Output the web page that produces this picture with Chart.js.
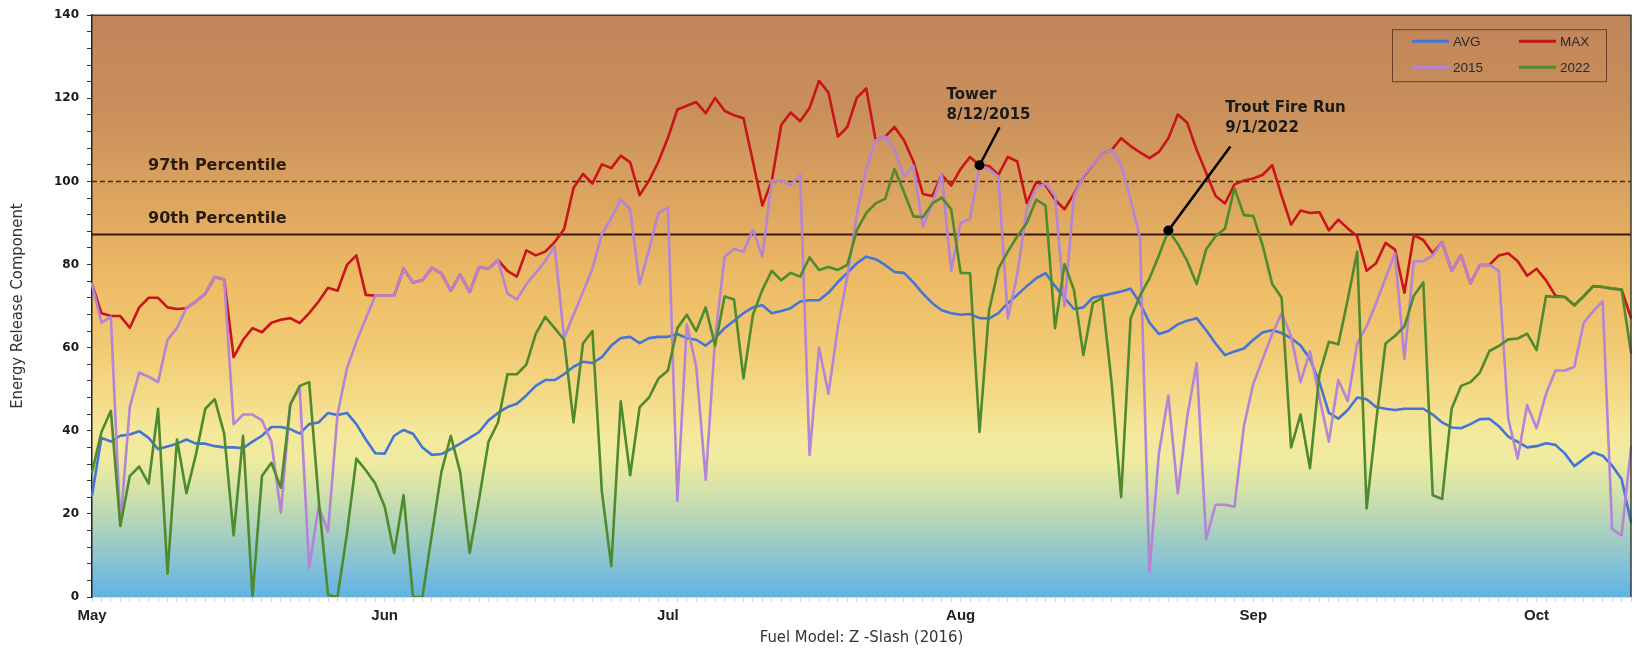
<!DOCTYPE html>
<html>
<head>
<meta charset="utf-8">
<script src="https://cdn.jsdelivr.net/npm/chart.js@4.4.0/dist/chart.umd.min.js"></script>
<style>
  html, body { margin: 0; padding: 0; background: #fff; }
  #wrap { width: 1636px; height: 648px; }
</style>
</head>
<body>
<div id="wrap"><canvas id="chart" width="1636" height="648"></canvas></div>
<script>
// meses del eje x
var meses = ['May', 'Jun', 'Jul', 'Aug', 'Sep', 'Oct'];
var numMes = [5, 6, 7, 8, 9, 10];
var diasMes = [31, 30, 31, 31, 30, 11];

var avg = [24.5, 38.3, 37.4, 38.8, 39.1, 39.9, 38.3, 35.6, 36.2, 36.9,
  37.9, 36.9, 36.9, 36.3, 36, 36, 35.8, 37.4, 38.8, 40.9,
  40.9, 40.4, 39.3, 41.6, 42, 44.3, 43.8, 44.3, 41.6, 37.9,
  34.6, 34.5, 38.8, 40.2, 39.3, 36, 34.2, 34.4, 35.6, 36.9,
  38.3, 39.7, 42.5, 44.3, 45.7, 46.5, 48.5, 50.8, 52.2, 52.2,
  53.6, 55.4, 56.6, 56.3, 57.7, 60.5, 62.3, 62.6, 61.1, 62.3,
  62.6, 62.6, 63.3, 62.3, 61.9, 60.5, 62.3, 64.7, 66.5, 68.3,
  69.7, 70.2, 68.3, 68.8, 69.5, 71.1, 71.4, 71.4, 73.2, 75.8,
  78, 80.3, 81.9, 81.3, 79.9, 78.2, 78, 75.7, 73, 70.7,
  69, 68.3, 67.9, 68.1, 67.1, 67, 68.3, 70.7, 72.7, 74.8,
  76.7, 77.9, 74.8, 72, 69.3, 69.7, 72, 72.5, 73, 73.5,
  74.2, 70.7, 66, 63.3, 64, 65.6, 66.5, 67.1, 64.2, 61,
  58.2, 59.1, 59.8, 61.9, 63.7, 64.2, 63.5, 62.3, 60.5, 57.3,
  51.7, 44.3, 42.9, 45, 48, 47.6, 45.7, 45.3, 45, 45.3,
  45.3, 45.3, 43.9, 42, 40.8, 40.6, 41.6, 42.8, 42.9, 41.1,
  38.6, 37.3, 36, 36.3, 37, 36.6, 34.5, 31.5, 33.2, 34.8,
  34, 31.6, 28.4, 18];

var max = [75.3, 68.3, 67.6, 67.6, 64.8, 69.7, 72, 72, 69.7, 69.3,
  69.5, 71.1, 73, 77, 76.4, 57.7, 61.9, 64.7, 63.7, 66,
  66.7, 67.1, 65.9, 68.3, 71.1, 74.4, 73.7, 79.9, 82.2, 72.7,
  72.5, 72.5, 72.5, 79, 75.7, 76.2, 79.2, 77.9, 73.7, 77.6,
  73.4, 79.4, 79, 81.1, 78.5, 77.1, 83.4, 82.2, 83.1, 85.4,
  88.5, 98.4, 101.8, 99.5, 104.1, 103.2, 106.2, 104.6, 96.7, 100.2,
  104.8, 110.5, 117.3, 118.2, 119.1, 116.4, 120.1, 117, 115.9, 115.2,
  104.8, 94.2, 100.2, 113.6, 116.6, 114.5, 117.7, 124.2, 121.4, 110.8,
  113.1, 120.1, 122.4, 109.9, 110.8, 113.1, 109.9, 104.8, 97, 96.5,
  101.6, 99, 103, 105.9, 103.9, 103.7, 101.6, 105.9, 104.8, 94.8,
  99.8, 99.1, 95.6, 93.3, 97, 101.1, 103.9, 106.7, 107.6, 110.4,
  108.5, 107, 105.6, 107.1, 110.4, 116.1, 114.1, 107.6, 102.1, 96.5,
  94.7, 99.3, 100.2, 100.7, 101.6, 103.9, 96.5, 89.6, 93, 92.4,
  92.6, 88.2, 90.8, 88.7, 86.8, 78.5, 80.3, 85.2, 83.6, 73.2,
  87.1, 85.9, 82.7, 85.4, 78.5, 82.2, 75.5, 79.9, 79.9, 82.2,
  82.7, 80.8, 77.3, 79, 76.2, 72.5, 72.2, 70.2, 72.4, 74.8,
  74.6, 74.2, 74, 67.2];

var y2015 = [75.3, 66, 67.4, 17.1, 45.7, 54, 53, 51.7, 61.9, 64.7,
  69.5, 71.1, 73, 77, 76.4, 41.6, 43.9, 43.9, 42.5, 37.4,
  20.3, 46.6, 50.3, 6.9, 21.7, 15.7, 43.9, 55, 61.4, 67,
  72.5, 72.5, 72.5, 79, 75.7, 76.2, 79.2, 77.9, 73.7, 77.6,
  73.4, 79.4, 79, 81.1, 73, 71.6, 75.3, 78, 80.8, 84.5,
  62.3, 67.9, 73.4, 79, 87.3, 91.2, 95.6, 93.3, 75.3, 83.6,
  92.4, 93.7, 23.1, 65.6, 55.4, 28.2, 62.3, 81.9, 83.8, 83.1,
  88.4, 81.9, 100.2, 100.2, 99.1, 101.6, 34.2, 60, 48.9, 65,
  77.1, 91.9, 103, 109.9, 110.8, 107.6, 101.1, 103.7, 89.1, 94.7,
  101.6, 78.5, 90, 91, 103.9, 103, 101.1, 67, 77.6, 93.3,
  98.5, 99.5, 96.5, 70, 96.5, 101.3, 104, 106.7, 107.6, 103.9,
  95.6, 86.4, 6, 34.6, 48.5, 25, 43.4, 56.3, 13.9, 22.2,
  22.2, 21.7, 41.1, 51.3, 57.3, 63.3, 68.3, 62.8, 51.7, 59.1,
  48, 37.4, 52.2, 47.1, 61, 65.1, 70.7, 76.7, 82.7, 57.3,
  80.8, 80.8, 82.2, 85.4, 78.5, 82.2, 75.5, 79.9, 79.9, 78.5,
  42.9, 33.3, 46.2, 40.6, 48.9, 54.5, 54.5, 55.4, 66, 68.8,
  71.2, 16.4, 14.8, 36];

var y2022 = [30, 39.7, 44.8, 17.1, 29.1, 31.4, 27.3, 45.3, 5.6, 37.9,
  25, 34.2, 45.3, 47.6, 39.3, 14.8, 38.8, 0, 29.1, 32.3,
  26.3, 46.2, 50.8, 51.7, 23.6, 0.5, 0, 15.2, 33.3, 30.5,
  27.3, 21.7, 10.6, 24.5, 0, 0, 15.2, 30, 38.8, 30,
  10.6, 23.6, 37.4, 42, 53.6, 53.6, 55.9, 63.3, 67.4, 64.7,
  61.9, 42, 61, 64, 25.4, 7.4, 47.1, 29.3, 45.7, 48,
  52.6, 54.5, 64.7, 67.9, 64, 69.7, 60.5, 72.3, 71.6, 52.6,
  67.9, 73.9, 78.5, 76.2, 78, 77.1, 81.7, 78.7, 79.4, 78.7,
  79.9, 88.2, 92.4, 94.7, 95.8, 103, 97.4, 91.6, 91.4, 94.7,
  96.1, 93.3, 78, 77.9, 39.7, 68.8, 79, 83.1, 86.8, 90,
  95.6, 94.2, 64.7, 80.1, 73.9, 58.2, 70.7, 72, 51.3, 24,
  67, 72.5, 76.7, 82.2, 88.2, 85, 80.8, 75.3, 83.6, 86.8,
  88.7, 98.4, 91.9, 91.7, 84.5, 75.3, 72, 36, 43.9, 31,
  53.6, 61.4, 60.8, 71.6, 83.1, 21.3, 42, 61, 62.8, 65.1,
  72.5, 75.7, 24.5, 23.6, 45.3, 50.8, 51.7, 54, 59.2, 60.4,
  62, 62.2, 63.4, 59.4, 72.4, 72.2, 72.2, 70.2, 72.4, 74.8,
  74.6, 74.2, 74, 58.8];

var percentil97 = 100;
var percentil90 = 87.2;

// dias (categorias) y etiqueta de mes en el primer dia
var dias = [];
var etiquetaMes = {};
for (var m = 0; m < meses.length; m++) {
  etiquetaMes[dias.length] = meses[m];
  for (var d = 1; d <= diasMes[m]; d++) {
    dias.push(numMes[m] + '/' + d);
  }
}

var anotaciones = [
  {lineas: ['Tower', '8/12/2015'], serie: 2, dia: 94, tx: -33, ty: -70, ax: 20, ay: -38},
  {lineas: ['Trout Fire Run', '9/1/2022'], serie: 3, dia: 114, tx: 57, ty: -122, ax: 62, ay: -84}
];

var fondo = {
  id: 'fondo',
  beforeDraw: function(chart) {
    var ctx = chart.ctx, a = chart.chartArea;
    ctx.save();
    ctx.fillStyle = '#ffffff';
    ctx.fillRect(0, 0, chart.width, chart.height);
    var g = ctx.createLinearGradient(0, a.top, 0, a.bottom);
    g.addColorStop(0, '#c0865a');
    g.addColorStop(0.157, '#c88e5b');
    g.addColorStop(0.286, '#d8a05f');
    g.addColorStop(0.379, '#e4ae62');
    g.addColorStop(0.457, '#edbb66');
    g.addColorStop(0.571, '#f2ca73');
    g.addColorStop(0.657, '#f4db88');
    g.addColorStop(0.714, '#f5e89a');
    g.addColorStop(0.764, '#efeba0');
    g.addColorStop(0.814, '#d6e3a9');
    g.addColorStop(0.886, '#a9d1bd');
    g.addColorStop(0.95, '#80c0d8');
    g.addColorStop(1, '#62b3e3');
    ctx.fillStyle = g;
    ctx.fillRect(a.left, a.top, a.right - a.left, a.bottom - a.top);
    ctx.restore();
  },
  beforeDatasetsDraw: function(chart) {
    var ctx = chart.ctx, a = chart.chartArea, y = chart.scales.y;
    var y97 = y.getPixelForValue(percentil97);
    var y90 = y.getPixelForValue(percentil90);
    ctx.save();
    ctx.strokeStyle = '#4a2810';
    ctx.lineWidth = 1.6;
    ctx.setLineDash([5, 3]);
    ctx.beginPath(); ctx.moveTo(a.left, y97); ctx.lineTo(a.right, y97); ctx.stroke();
    ctx.setLineDash([]);
    ctx.strokeStyle = '#3a1a08';
    ctx.lineWidth = 2;
    ctx.beginPath(); ctx.moveTo(a.left, y90); ctx.lineTo(a.right, y90); ctx.stroke();
    ctx.fillStyle = '#2a1a10';
    ctx.font = 'bold 16px "DejaVu Sans", sans-serif';
    ctx.textBaseline = 'middle';
    ctx.fillText('97th Percentile', a.left + 56, y97 - 16);
    ctx.fillText('90th Percentile', a.left + 56, y90 - 16);
    ctx.restore();
  },
  afterDatasetsDraw: function(chart) {
    var ctx = chart.ctx, a = chart.chartArea;
    var x = chart.scales.x, y = chart.scales.y;
    ctx.save();
    // anotaciones
    anotaciones.forEach(function(an) {
      var px = x.getPixelForValue(an.dia);
      var py = y.getPixelForValue(chart.data.datasets[an.serie].data[an.dia]);
      ctx.strokeStyle = '#000';
      ctx.lineWidth = 2.5;
      ctx.beginPath(); ctx.moveTo(px + an.ax, py + an.ay); ctx.lineTo(px, py); ctx.stroke();
      ctx.fillStyle = '#000';
      ctx.beginPath(); ctx.arc(px, py, 5, 0, Math.PI * 2); ctx.fill();
      ctx.fillStyle = '#1a1a1a';
      ctx.font = 'bold 15px "DejaVu Sans", sans-serif';
      ctx.textBaseline = 'middle';
      ctx.fillText(an.lineas[0], px + an.tx, py + an.ty);
      ctx.fillText(an.lineas[1], px + an.tx, py + an.ty + 20);
    });
    // leyenda
    var bx = a.right - 239, by = a.top + 14;
    ctx.strokeStyle = '#6a3e20';
    ctx.lineWidth = 1;
    ctx.strokeRect(bx + 0.5, by + 0.5, 214, 52);
    ctx.font = '13.5px "Liberation Sans", Arial, sans-serif';
    ctx.textBaseline = 'middle';
    chart.data.datasets.forEach(function(ds, i) {
      var col = i % 2, fila = Math.floor(i / 2);
      var lx = bx + 20 + col * 107, ly = by + 12 + fila * 26;
      ctx.strokeStyle = ds.borderColor;
      ctx.lineWidth = 3;
      ctx.beginPath(); ctx.moveTo(lx, ly); ctx.lineTo(lx + 37, ly); ctx.stroke();
      ctx.fillStyle = '#2a2a2a';
      ctx.fillText(ds.label, lx + 41, ly + 1);
    });
    // borde superior y derecho
    ctx.strokeStyle = '#3a3a3a';
    ctx.lineWidth = 1.5;
    ctx.beginPath();
    ctx.moveTo(a.left, a.top); ctx.lineTo(a.right, a.top); ctx.lineTo(a.right, a.bottom);
    ctx.stroke();
    ctx.restore();
  }
};

var ctx = document.getElementById('chart');
var grafica = new Chart(ctx, {
  type: 'line',
  data: {
    labels: dias,
    datasets: [
      {label: 'AVG', data: avg, borderColor: '#4474d8', order: 4},
      {label: 'MAX', data: max, borderColor: '#c8141a', order: 3},
      {label: '2015', data: y2015, borderColor: '#b484d6', order: 2},
      {label: '2022', data: y2022, borderColor: '#4e8a2e', order: 1}
    ]
  },
  options: {
    responsive: false,
    animation: false,
    layout: {padding: {top: 13, right: 5, left: 8, bottom: 0}},
    elements: {
      line: {borderWidth: 2.6, tension: 0, borderJoinStyle: 'round', borderCapStyle: 'round', fill: false},
      point: {radius: 0}
    },
    plugins: {legend: {display: false}, tooltip: {enabled: false}},
    scales: {
      x: {
        offset: false,
        afterFit: function(s) { s.height = 51; },
        grid: {display: true, drawOnChartArea: false, tickLength: 5, color: 'rgba(195,205,215,0.9)'},
        border: {color: '#d4dbe2', width: 1},
        ticks: {
          autoSkip: false, maxRotation: 0, minRotation: 0, padding: 5,
          color: '#222',
          font: {family: '"Liberation Sans", Arial, sans-serif', size: 15, weight: 'bold'},
          callback: function(v, i) { return etiquetaMes[i] || ''; }
        },
        title: {
          display: true, text: 'Fuel Model: Z -Slash (2016)', color: '#333',
          font: {family: '"Liberation Sans Narrow", "DejaVu Sans Condensed", sans-serif', size: 16.5},
          padding: {top: 0, bottom: 0}
        }
      },
      y: {
        min: 0, max: 140,
        afterFit: function(s) { s.width = 84; },
        grid: {display: true, drawOnChartArea: false, tickLength: 5, color: '#333'},
        border: {color: '#222', width: 1.5},
        ticks: {
          stepSize: 4, autoSkip: false, padding: 8, color: '#1a1a1a',
          font: {family: '"DejaVu Sans", sans-serif', size: 12, weight: 'bold'},
          callback: function(v) { return v % 20 === 0 ? v : ''; }
        },
        title: {
          display: true, text: 'Energy Release Component', color: '#333',
          font: {family: '"Liberation Sans Narrow", "DejaVu Sans Condensed", sans-serif', size: 16.5},
          padding: {top: 0, bottom: 0}
        }
      }
    }
  },
  plugins: [fondo]
});
</script>
</body>
</html>
